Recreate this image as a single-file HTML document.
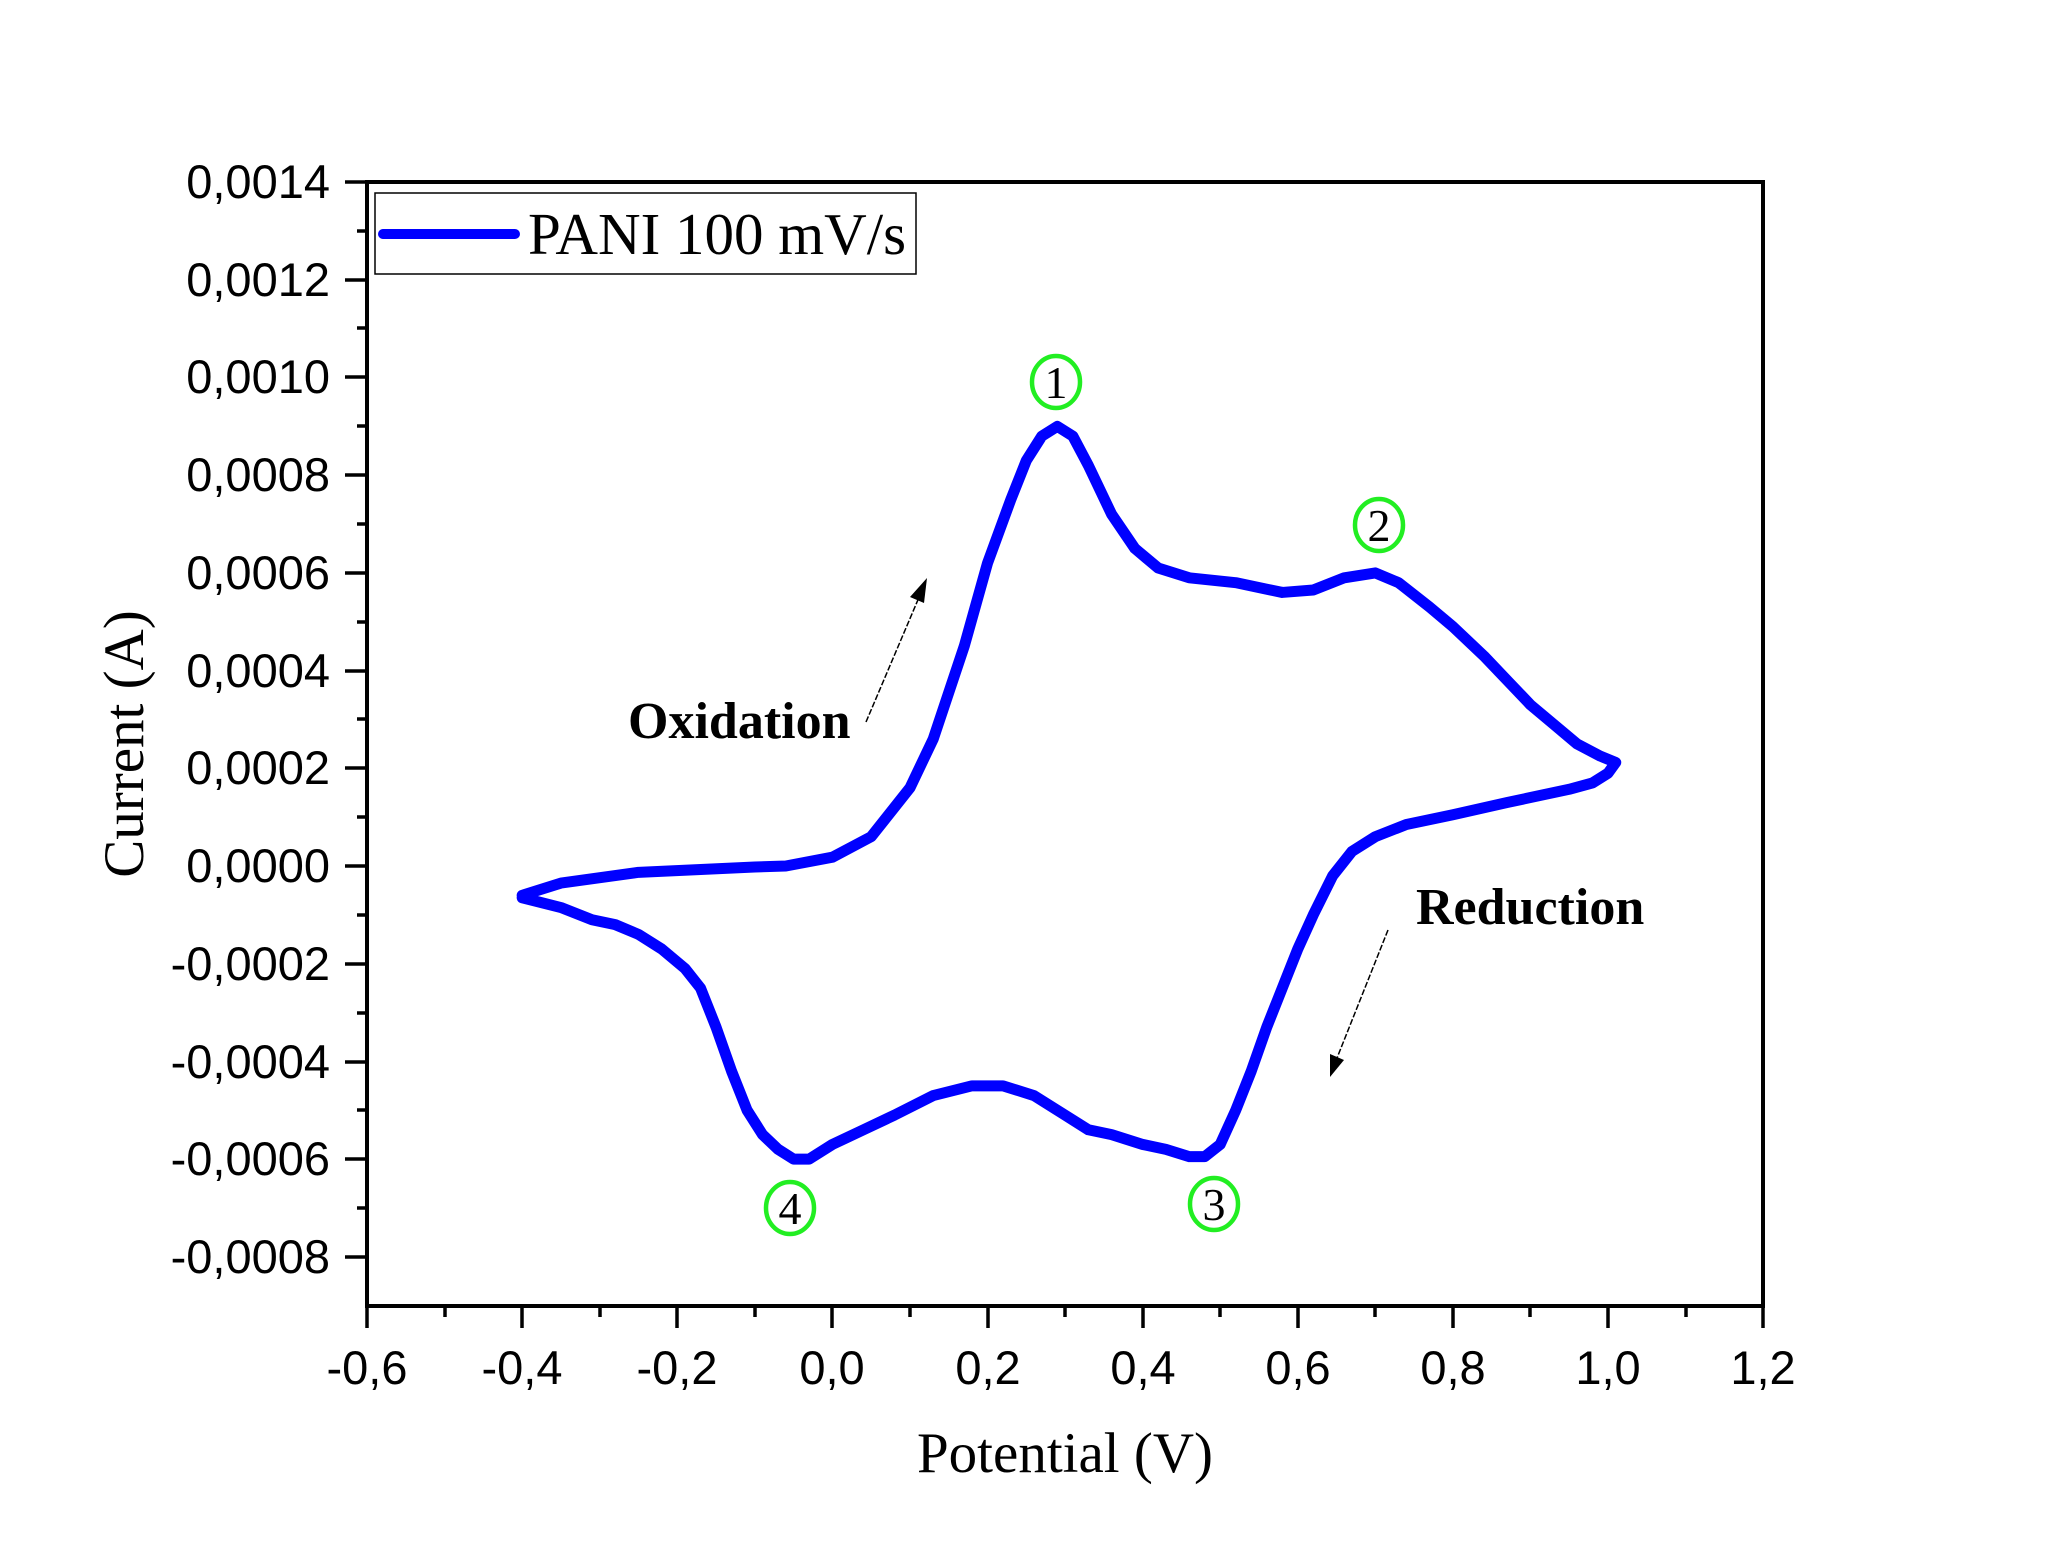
<!DOCTYPE html>
<html><head><meta charset="utf-8"><style>html,body{margin:0;padding:0;background:#fff}svg{display:block}</style></head>
<body>
<svg width="2048" height="1568" viewBox="0 0 2048 1568" xmlns="http://www.w3.org/2000/svg">
<rect width="2048" height="1568" fill="#fff"/>
<rect x="367" y="182" width="1396" height="1124" fill="none" stroke="#000" stroke-width="4"/>
<g stroke="#000" stroke-width="3.5">
<line x1="345" y1="182" x2="367" y2="182"/><line x1="345" y1="280" x2="367" y2="280"/><line x1="345" y1="377" x2="367" y2="377"/><line x1="345" y1="475" x2="367" y2="475"/><line x1="345" y1="573" x2="367" y2="573"/><line x1="345" y1="671" x2="367" y2="671"/><line x1="345" y1="768" x2="367" y2="768"/><line x1="345" y1="866" x2="367" y2="866"/><line x1="345" y1="964" x2="367" y2="964"/><line x1="345" y1="1062" x2="367" y2="1062"/><line x1="345" y1="1159" x2="367" y2="1159"/><line x1="345" y1="1257" x2="367" y2="1257"/>
<line x1="357" y1="231" x2="367" y2="231"/><line x1="357" y1="328" x2="367" y2="328"/><line x1="357" y1="426" x2="367" y2="426"/><line x1="357" y1="524" x2="367" y2="524"/><line x1="357" y1="622" x2="367" y2="622"/><line x1="357" y1="719" x2="367" y2="719"/><line x1="357" y1="817" x2="367" y2="817"/><line x1="357" y1="915" x2="367" y2="915"/><line x1="357" y1="1013" x2="367" y2="1013"/><line x1="357" y1="1110" x2="367" y2="1110"/><line x1="357" y1="1208" x2="367" y2="1208"/>
<line x1="367" y1="1306" x2="367" y2="1328"/><line x1="522" y1="1306" x2="522" y2="1328"/><line x1="677" y1="1306" x2="677" y2="1328"/><line x1="832" y1="1306" x2="832" y2="1328"/><line x1="988" y1="1306" x2="988" y2="1328"/><line x1="1143" y1="1306" x2="1143" y2="1328"/><line x1="1298" y1="1306" x2="1298" y2="1328"/><line x1="1453" y1="1306" x2="1453" y2="1328"/><line x1="1608" y1="1306" x2="1608" y2="1328"/><line x1="1763" y1="1306" x2="1763" y2="1328"/>
<line x1="445" y1="1306" x2="445" y2="1317"/><line x1="600" y1="1306" x2="600" y2="1317"/><line x1="755" y1="1306" x2="755" y2="1317"/><line x1="910" y1="1306" x2="910" y2="1317"/><line x1="1065" y1="1306" x2="1065" y2="1317"/><line x1="1220" y1="1306" x2="1220" y2="1317"/><line x1="1375" y1="1306" x2="1375" y2="1317"/><line x1="1530" y1="1306" x2="1530" y2="1317"/><line x1="1686" y1="1306" x2="1686" y2="1317"/>
</g>
<g font-family="Liberation Sans, sans-serif" font-size="47" fill="#000" text-anchor="end">
<text x="330" y="198">0,0014</text><text x="330" y="296">0,0012</text><text x="330" y="393">0,0010</text><text x="330" y="491">0,0008</text><text x="330" y="589">0,0006</text><text x="330" y="687">0,0004</text><text x="330" y="784">0,0002</text><text x="330" y="882">0,0000</text><text x="330" y="980">-0,0002</text><text x="330" y="1078">-0,0004</text><text x="330" y="1175">-0,0006</text><text x="330" y="1273">-0,0008</text>
</g>
<g font-family="Liberation Sans, sans-serif" font-size="47" fill="#000" text-anchor="middle">
<text x="367" y="1384">-0,6</text><text x="522" y="1384">-0,4</text><text x="677" y="1384">-0,2</text><text x="832" y="1384">0,0</text><text x="988" y="1384">0,2</text><text x="1143" y="1384">0,4</text><text x="1298" y="1384">0,6</text><text x="1453" y="1384">0,8</text><text x="1608" y="1384">1,0</text><text x="1763" y="1384">1,2</text>
</g>
<text x="1065" y="1472" font-family="Liberation Serif, serif" font-size="57" text-anchor="middle">Potential (V)</text>
<text transform="translate(143,744) rotate(-90)" font-family="Liberation Serif, serif" font-size="57" text-anchor="middle">Current (A)</text>
<rect x="375" y="193" width="541" height="81" fill="#fff" stroke="#000" stroke-width="1.5"/>
<line x1="383" y1="234" x2="515" y2="234" stroke="#0000ff" stroke-width="10" stroke-linecap="round"/>
<text x="528" y="254" font-family="Liberation Serif, serif" font-size="59">PANI 100 mV/s</text>
<g transform="translate(832.4,866) scale(775.6,-488500)">
<polyline fill="none" stroke="#0000ff" stroke-width="11" stroke-linejoin="round" stroke-linecap="round" vector-effect="non-scaling-stroke" points="-0.4,-0.00006 -0.35,-0.000035 -0.25,-0.000013 -0.1,-0.000002 -0.06,0 0,0.000018 0.05,0.00006 0.1,0.00016 0.13,0.00026 0.17,0.00045 0.2,0.00062 0.23,0.00075 0.25,0.00083 0.27,0.00088 0.29,0.0009 0.31,0.00088 0.33,0.00082 0.36,0.00072 0.39,0.00065 0.42,0.00061 0.46,0.00059 0.52,0.00058 0.58,0.00056 0.62,0.000565 0.66,0.00059 0.7,0.0006 0.73,0.00058 0.77,0.00053 0.8,0.00049 0.84,0.00043 0.87,0.00038 0.9,0.00033 0.93,0.00029 0.96,0.00025 0.99,0.000225 1.01,0.000212 1.0,0.00019 0.98,0.00017 0.95,0.000157 0.87,0.00013 0.8,0.000105 0.74,0.000085 0.7,0.00006 0.67,0.00003 0.645,-0.00002 0.62,-0.0001 0.6,-0.00017 0.58,-0.00025 0.56,-0.00033 0.54,-0.00042 0.52,-0.0005 0.5,-0.00057 0.48,-0.000595 0.46,-0.000595 0.43,-0.00058 0.4,-0.00057 0.36,-0.00055 0.33,-0.00054 0.3,-0.00051 0.26,-0.00047 0.22,-0.00045 0.18,-0.00045 0.13,-0.00047 0.08,-0.00051 0.04,-0.00054 0,-0.00057 -0.03,-0.0006 -0.05,-0.0006 -0.07,-0.00058 -0.09,-0.00055 -0.11,-0.0005 -0.13,-0.00042 -0.15,-0.00033 -0.17,-0.00025 -0.19,-0.00021 -0.22,-0.00017 -0.25,-0.00014 -0.28,-0.00012 -0.31,-0.00011 -0.35,-0.000085 -0.4,-0.000065"/>
</g>
<g fill="none" stroke="#22ee22" stroke-width="4.5">
<ellipse cx="1056" cy="382" rx="24" ry="26"/>
<ellipse cx="1379" cy="525" rx="24" ry="26"/>
<ellipse cx="1214" cy="1204" rx="24" ry="26"/>
<ellipse cx="790" cy="1208" rx="24" ry="26"/>
</g>
<g font-family="Liberation Serif, serif" font-size="46" text-anchor="middle" fill="#000">
<text x="1056" y="398">1</text><text x="1379" y="541">2</text><text x="1214" y="1220">3</text><text x="790" y="1224">4</text>
</g>
<text x="628" y="738" font-family="Liberation Serif, serif" font-weight="bold" font-size="52">Oxidation</text>
<text x="1416" y="924" font-family="Liberation Serif, serif" font-weight="bold" font-size="52">Reduction</text>
<line x1="866" y1="722" x2="920" y2="595" stroke="#000" stroke-width="1.5" stroke-dasharray="6,2"/>
<polygon points="927,578 910,597 924,603" fill="#000"/>
<line x1="1388" y1="930" x2="1337" y2="1058" stroke="#000" stroke-width="1.5" stroke-dasharray="6,2"/>
<polygon points="1330,1077 1330,1054 1344,1060" fill="#000"/>
</svg>
</body></html>
